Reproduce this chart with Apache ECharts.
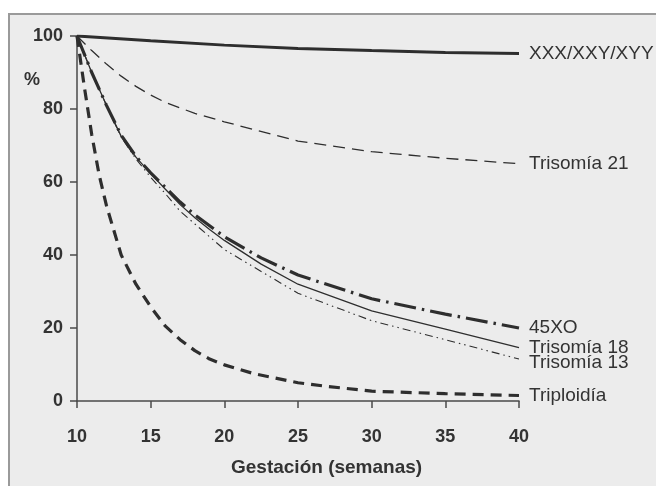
<!DOCTYPE html>
<html><head><meta charset="utf-8">
<script src="https://cdn.jsdelivr.net/npm/echarts@6/dist/echarts.min.js"></script>
<style>html,body{margin:0;padding:0;background:#fff}#c{width:656px;height:486px}</style>
</head><body><div id="c"></div>
<script>
const xTicks = [10, 15, 20, 25, 30, 35, 40];
const yTicks = [0, 20, 40, 60, 80, 100];

const weeksXXX = [10, 15, 20, 25, 30, 35, 40];
const valXXX   = [100, 98.7, 97.5, 96.6, 96, 95.5, 95.2];

const weeksT21 = [10, 11, 12, 13, 14, 15, 16, 18, 20, 25, 30, 35, 40];
const valT21   = [100, 96, 92.3, 89, 86.2, 83.8, 81.8, 78.8, 76.5, 71.2, 68.3, 66.5, 65];

const weeksMain = [10, 11, 12, 13, 14, 15, 16, 17, 18, 19, 20, 22.5, 25, 30, 35, 40];
const val45XO  = [100, 90, 81, 72.8, 67, 62.5, 58.5, 54.5, 51, 48, 45, 39.2, 34.5, 28, 23.8, 20];
const valT18   = [100, 90, 81, 72.5, 66.8, 62.3, 58, 53.8, 50.2, 47, 44, 37.5, 32, 24.7, 19.7, 14.6];
const valT13   = [100, 90, 81, 72.3, 66.3, 61.3, 56.8, 52, 48.5, 45, 41.5, 35.5, 29.5, 22, 16.8, 11.5];

const weeksTri = [10, 10.5, 11, 11.5, 12, 13, 14, 15, 16, 17, 18, 19, 20, 22, 25, 27, 30, 35, 40];
const valTri   = [100, 86, 73, 62, 53.5, 40, 32, 25.8, 20.5, 16.8, 13.8, 11.5, 9.9, 7.5, 5, 4, 2.7, 2, 1.5];

const names = ['XXX/XXY/XYY', 'Trisomía 21', '45XO', 'Trisomía 18', 'Trisomía 13', 'Triploidía'];

function pairs(w, v) { return w.map((x, i) => [x, v[i]]); }

const col = '#2e2e2e';
const font = '"Liberation Sans", Arial, sans-serif';

function mk(name, data, width, dash, offset) {
  return {
    name: name, type: 'line', data: data, showSymbol: false, symbol: 'none',
    smooth: false, animation: false,
    lineStyle: { color: col, width: width, type: dash, cap: 'butt' },
    endLabel: { show: true, formatter: '{a}', distance: 10, offset: offset || [0, 0],
      color: '#333', fontFamily: font, fontSize: 19 }
  };
}

const chart = echarts.init(document.getElementById('c'), null, { renderer: 'canvas' });
chart.setOption({
  animation: false,
  backgroundColor: '#fff',
  graphic: [
    { type: 'rect', left: 8, top: 13, z: -10,
      shape: { width: 700, height: 520 },
      style: { fill: '#ececec', stroke: '#9a9a9a', lineWidth: 2 } },
    { type: 'text', left: 24, top: 71, z: 10,
      style: { text: '%', fill: '#333', font: 'bold 18px ' + font } },
    { type: 'text', left: 231, top: 458, z: 10,
      style: { text: 'Gestación (semanas)', fill: '#333', font: 'bold 19px ' + font } }
  ],
  grid: { left: 77, right: 137, top: 36, bottom: 85, containLabel: false },
  xAxis: {
    type: 'value', min: xTicks[0], max: xTicks[xTicks.length - 1], interval: 5,
    axisLine: { show: true, onZero: false, lineStyle: { color: '#4a4a4a', width: 1.5 } },
    axisTick: { show: true, inside: false, length: 7, lineStyle: { color: '#4a4a4a', width: 1.5 } },
    axisLabel: { margin: 27, color: '#333', fontWeight: 'bold', fontSize: 18, fontFamily: font,
      formatter: v => xTicks.includes(v) ? String(v) : '' },
    splitLine: { show: false }
  },
  yAxis: {
    type: 'value', min: yTicks[0], max: yTicks[yTicks.length - 1], interval: 20,
    axisLine: { show: true, lineStyle: { color: '#4a4a4a', width: 1.5 } },
    axisTick: { show: true, inside: false, length: 7, lineStyle: { color: '#4a4a4a', width: 1.5 } },
    axisLabel: { margin: 14, color: '#333', fontWeight: 'bold', fontSize: 18, fontFamily: font,
      formatter: v => yTicks.includes(v) ? String(v) : '' },
    splitLine: { show: false }
  },
  series: [
    mk(names[0], pairs(weeksXXX, valXXX), 3, 'solid'),
    mk(names[1], pairs(weeksT21, valT21), 1.3, [12, 7]),
    mk(names[2], pairs(weeksMain, val45XO), 3.2, [22, 6, 2.5, 6]),
    mk(names[3], pairs(weeksMain, valT18), 1.3, 'solid'),
    mk(names[4], pairs(weeksMain, valT13), 1.1, [8, 4, 1.5, 4, 1.5, 4], [0, 4]),
    mk(names[5], pairs(weeksTri, valTri), 3.2, [11, 7])
  ]
});
</script>
</body></html>
